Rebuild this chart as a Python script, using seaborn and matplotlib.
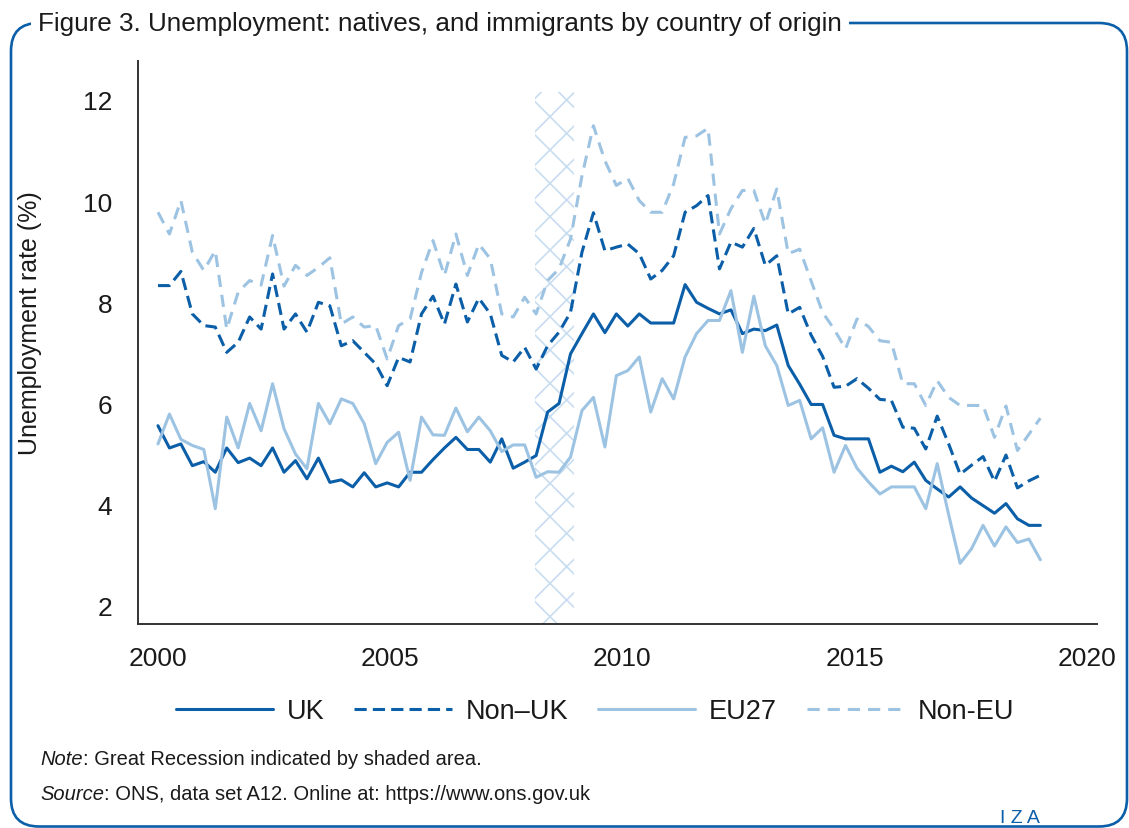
import numpy as np
import pandas as pd
import matplotlib
matplotlib.use("Agg")
import matplotlib.pyplot as plt
from matplotlib.patches import FancyBboxPatch
import seaborn as sns

# 78 quarterly observations, spread evenly from 2000 to 2019 on the time axis
quarters = np.linspace(2000, 2019, 78)

uk = [5.56, 5.12, 5.20, 4.77, 4.85, 4.64, 5.12, 4.83, 4.92, 4.77,
      5.12, 4.64, 4.87, 4.51, 4.92, 4.44, 4.49, 4.35, 4.63, 4.35,
      4.43, 4.35, 4.64, 4.64, 4.89, 5.12, 5.33, 5.09, 5.09, 4.84,
      5.30, 4.72, 4.84, 4.97, 5.83, 6.00, 6.98, 7.38, 7.77, 7.40,
      7.77, 7.53, 7.77, 7.59, 7.59, 7.59, 8.35, 8.00, 7.88, 7.77,
      7.85, 7.38, 7.47, 7.44, 7.55, 6.75, 6.38, 5.98, 5.98, 5.37,
      5.30, 5.30, 5.30, 4.64, 4.76, 4.65, 4.84, 4.48, 4.31, 4.15,
      4.35, 4.13, 3.98, 3.83, 4.02, 3.72, 3.59, 3.59]

non_uk = [8.33, 8.33, 8.61, 7.77, 7.54, 7.51, 7.01, 7.21, 7.71, 7.47,
          8.56, 7.47, 7.77, 7.41, 8.00, 7.93, 7.14, 7.24, 7.01, 6.78,
          6.35, 6.91, 6.82, 7.77, 8.12, 7.57, 8.36, 7.61, 8.08, 7.77,
          6.95, 6.82, 7.11, 6.68, 7.14, 7.41, 7.80, 8.99, 9.77, 9.02,
          9.09, 9.15, 8.96, 8.46, 8.63, 8.92, 9.78, 9.91, 10.11, 8.66,
          9.19, 9.09, 9.46, 8.73, 8.92, 7.77, 7.90, 7.35, 6.93, 6.32,
          6.34, 6.49, 6.30, 6.08, 6.06, 5.53, 5.51, 5.10, 5.75, 5.20,
          4.60, 4.78, 4.95, 4.46, 4.98, 4.33, 4.47, 4.58]

eu27 = [5.20, 5.79, 5.29, 5.17, 5.09, 3.92, 5.73, 5.12, 6.00, 5.46,
        6.39, 5.50, 5.00, 4.71, 6.00, 5.60, 6.09, 6.00, 5.60, 4.81,
        5.23, 5.43, 4.48, 5.73, 5.38, 5.37, 5.91, 5.44, 5.73, 5.46,
        5.05, 5.18, 5.18, 4.54, 4.65, 4.64, 4.94, 5.86, 6.12, 5.14,
        6.55, 6.65, 6.92, 5.83, 6.49, 6.09, 6.92, 7.38, 7.64, 7.64,
        8.23, 7.01, 8.12, 7.14, 6.75, 5.96, 6.06, 5.30, 5.52, 4.64,
        5.17, 4.72, 4.45, 4.21, 4.35, 4.35, 4.35, 3.92, 4.81, 3.80,
        2.84, 3.13, 3.59, 3.18, 3.56, 3.25, 3.32, 2.91]

non_eu = [9.78, 9.35, 10.01, 8.99, 8.63, 9.02, 7.47, 8.20, 8.43, 8.34,
          9.32, 8.32, 8.73, 8.53, 8.69, 8.88, 7.57, 7.71, 7.51, 7.54,
          6.88, 7.54, 7.67, 8.59, 9.22, 8.53, 9.35, 8.53, 9.15, 8.86,
          7.77, 7.71, 8.10, 7.77, 8.43, 8.66, 9.25, 10.50, 11.49, 10.80,
          10.31, 10.45, 10.01, 9.78, 9.78, 10.34, 11.26, 11.29, 11.44, 9.35,
          9.85, 10.21, 10.21, 9.55, 10.24, 8.96, 9.05, 8.42, 7.80, 7.47,
          7.08, 7.67, 7.52, 7.24, 7.21, 6.39, 6.39, 5.96, 6.45, 6.12,
          5.96, 5.96, 5.96, 5.33, 5.95, 5.07, 5.39, 5.71]

groups = ["UK", "Non–UK", "EU27", "Non-EU"]
recession = [2008.12, 2008.95]
y_ticks = [2, 4, 6, 8, 10, 12]
x_ticks = [2000, 2005, 2010, 2015, 2020]

dark_blue = "#0b5ea8"
light_blue = "#9dc3e3"
hatch_blue = "#c8ddf0"
text_col = "#1a1a1a"
axis_col = "#333333"


def px_x(x):
    return x / 1129


def px_y(y):
    return 1 - y / 829


def main():
    sns.set_theme(style="white")
    plt.rcParams["font.family"] = ["Liberation Sans", "DejaVu Sans"]
    plt.rcParams["hatch.linewidth"] = 1.2

    df = pd.DataFrame({
        "year": np.tile(quarters, len(groups)),
        "rate": uk + non_uk + eu27 + non_eu,
        "group": np.repeat(groups, len(quarters)),
    })

    fig = plt.figure(figsize=(11.29, 8.29), dpi=100)
    ax = fig.add_axes([px_x(138), px_y(625), px_x(1097 - 138), (625 - 62) / 829])

    # Great Recession, hatched
    ax.fill_between(recession, 1.64, 12.15, facecolor="none", edgecolor=hatch_blue,
                    hatch="x", linewidth=0, zorder=1)

    sns.lineplot(data=df, x="year", y="rate", hue="group", style="group",
                 palette={"UK": dark_blue, "Non–UK": dark_blue,
                          "EU27": light_blue, "Non-EU": light_blue},
                 dashes={"UK": "", "Non–UK": (4, 2), "EU27": "", "Non-EU": (4, 2.6)},
                 linewidth=2.2, sort=False, estimator=None, ax=ax, zorder=3)

    ax.set_xlim(1999.57, 2020.22)
    ax.set_ylim(1.64, 12.77)
    ax.set_xticks(x_ticks)
    ax.set_yticks(y_ticks)
    ax.set_xlabel("")
    ax.set_ylabel("")
    sns.despine(ax=ax)
    for side in ["left", "bottom"]:
        ax.spines[side].set_color(axis_col)
        ax.spines[side].set_linewidth(1.4)
    ax.tick_params(axis="both", direction="out", length=7.5, width=1.4, color=axis_col,
                   labelsize=19, labelcolor=text_col)
    ax.tick_params(axis="y", pad=11)
    ax.tick_params(axis="x", pad=8)

    fig.text(px_x(30), px_y(323), "Unemployment rate (%)", rotation=90,
             ha="center", va="center", fontsize=18, color=text_col)

    handles, labels = ax.get_legend_handles_labels()
    ax.get_legend().remove()
    fig.legend(handles, labels, loc="center", bbox_to_anchor=(px_x(595), px_y(712)),
               ncol=4, frameon=False, fontsize=19.5, handlelength=3.6,
               handletextpad=0.5, columnspacing=1.1, labelcolor=text_col)

    # rounded frame with the title breaking the top edge
    frame = FancyBboxPatch((0.11, 0.015), 11.16, 8.035,
                           boxstyle="round,pad=0,rounding_size=0.28",
                           transform=fig.dpi_scale_trans, facecolor="none",
                           edgecolor=dark_blue, linewidth=1.9, zorder=1)
    fig.patches.append(frame)
    fig.text(px_x(38), px_y(24),
             "Figure 3. Unemployment: natives, and immigrants by country of origin",
             ha="left", va="center", fontsize=18.8, color=text_col,
             bbox=dict(facecolor="white", edgecolor="none", pad=5))

    fig.canvas.draw()
    for y, head, rest in [(760, "Note", ": Great Recession indicated by shaded area."),
                          (795, "Source", ": ONS, data set A12. Online at: https://www.ons.gov.uk")]:
        t = fig.text(px_x(40), px_y(y), head, style="italic", ha="left", va="center",
                     fontsize=14.5, color=text_col)
        bb = t.get_window_extent(renderer=fig.canvas.get_renderer())
        fig.text(bb.x1 / fig.bbox.width, px_y(y), rest, ha="left", va="center",
                 fontsize=14.5, color=text_col)

    fig.text(px_x(1020), px_y(819), "I Z A", ha="center", va="center",
             fontsize=14, color=dark_blue)

    fig.savefig("out.png", dpi=100)


if __name__ == "__main__":
    main()
